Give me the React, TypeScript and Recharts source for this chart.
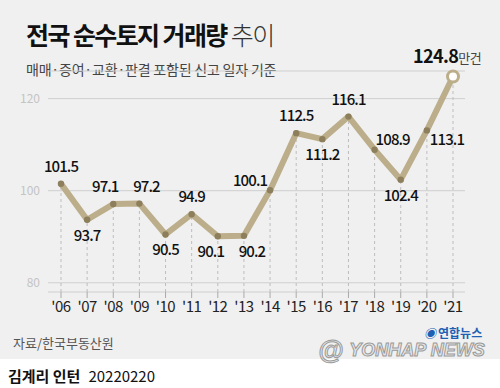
import { CartesianGrid, LabelList, Line, LineChart, ReferenceLine, XAxis, YAxis } from "recharts";

const years = ["'06", "'07", "'08", "'09", "'10", "'11", "'12", "'13", "'14", "'15", "'16", "'17", "'18", "'19", "'20", "'21"];
const volumes = [101.5, 93.7, 97.1, 97.2, 90.5, 94.9, 90.1, 90.2, 100.1, 112.5, 111.2, 116.1, 108.9, 102.4, 113.1, 124.8];
const yTicks = [80, 100, 120];

const FONT = "'Noto Sans CJK KR', 'Noto Sans', sans-serif";
const LINE = "#bcae8a";
const DOT = "#8d7e5c";

// where each value label sits relative to its point: [dx, dy, anchor]
const labelPlacement: [number, number, string][] = [
	[0, -12, "middle"],
	[0, 21, "middle"],
	[-8, -12, "middle"],
	[7, -12, "middle"],
	[0, 21, "middle"],
	[0, -12, "middle"],
	[-7, 21, "middle"],
	[8, 21, "middle"],
	[-20, -4, "middle"],
	[0, -12, "middle"],
	[0, 21, "middle"],
	[0, -12, "middle"],
	[1, -5, "start"],
	[0, 21, "middle"],
	[3, 15, "start"],
];

const chartData = years.map((year, i) => ({ year, value: volumes[i] }));

function ValueLabel(props: any) {
	const { x, y, value, index } = props;
	if (index === volumes.length - 1) {
		return (
			<text x={x - 40} y={y - 14} fontFamily={FONT} fill="#111" letterSpacing={-0.6}>
				<tspan fontSize={18} fontWeight={700}>{value}</tspan>
				<tspan fontSize={13} fill="#444">만건</tspan>
			</text>
		);
	}
	const [dx, dy, anchor] = labelPlacement[index];
	return (
		<text
			x={x + dx}
			y={y + dy}
			textAnchor={anchor}
			fontFamily={FONT}
			fontSize={15}
			fontWeight={500}
			letterSpacing={-0.9}
			fill="#111"
		>
			{value}
		</text>
	);
}

function PointDot(props: any) {
	const { cx, cy, index } = props;
	if (index === volumes.length - 1) {
		return <circle key={index} cx={cx} cy={cy} r={5.5} fill="#fff" stroke={LINE} strokeWidth={3} />;
	}
	return <circle key={index} cx={cx} cy={cy} r={3.2} fill={DOT} />;
}

export default function App() {
	return (
		<div style={{ position: "absolute", left: 0, top: 0, width: 500, height: 388, background: "#fff", fontFamily: FONT, overflow: "hidden" }}>
			<div style={{ position: "absolute", left: 0, top: 0, width: 500, height: 359, background: "#f0f0f0" }} />
			<div style={{ position: "absolute", left: 26, top: 16, fontSize: 25, fontWeight: 700, letterSpacing: -1.6, color: "#111", whiteSpace: "nowrap" }}>
				전국 순수토지 거래량 <span style={{ fontWeight: 300, color: "#333" }}>추이</span>
			</div>
			<div style={{ position: "absolute", left: 26, top: 59, fontSize: 14, color: "#444", letterSpacing: -0.2, whiteSpace: "nowrap" }}>
				매매·증여·교환·판결 포함된 신고 일자 기준
			</div>

			<div style={{ position: "absolute", left: 0, top: 0 }}>
				<LineChart width={500} height={388} data={chartData} margin={{ top: 71, right: 35, bottom: 66, left: 0 }}>
					<CartesianGrid vertical={false} stroke="#cfcfcf" />
					<XAxis
						dataKey="year"
						axisLine={false}
						tickSize={6}
						tickMargin={3}
						tickLine={{ stroke: "#aaa" }}
						padding={{ left: 13, right: 12 }}
						tick={{ fontSize: 15, fill: "#222", fontFamily: FONT, letterSpacing: -0.5 }}
						interval={0}
						height={30}
					/>
					<YAxis
						domain={[78, 126]}
						ticks={yTicks}
						axisLine={false}
						tickLine={false}
						tickSize={0}
						tickMargin={8}
						width={48}
						tick={{ fontSize: 12, fill: "#c4c4c4", fontFamily: FONT }}
					/>
					{chartData.map((d) => (
						<ReferenceLine
							key={d.year}
							segment={[
								{ x: d.year, y: 78 },
								{ x: d.year, y: d.value },
							]}
							stroke="#bdbdbd"
							strokeDasharray="3 3"
						/>
					))}
					<Line
						type="linear"
						dataKey="value"
						stroke={LINE}
						strokeWidth={6}
						strokeLinejoin="round"
						dot={<PointDot />}
						activeDot={false}
						isAnimationActive={false}
					>
						<LabelList dataKey="value" content={<ValueLabel />} />
					</Line>
				</LineChart>
			</div>

			<div style={{ position: "absolute", left: 13, top: 333, fontSize: 13, color: "#555" }}>자료/한국부동산원</div>
			<div style={{ position: "absolute", left: 8, top: 365, fontSize: 15, color: "#111", whiteSpace: "nowrap" }}>
				<span style={{ fontWeight: 700 }}>김계리 인턴</span>
				<span style={{ marginLeft: 8 }}>20220220</span>
			</div>
			<div style={{ position: "absolute", left: 424, top: 324, fontSize: 12, fontWeight: 700, color: "#1f5fb4", whiteSpace: "nowrap" }}>
				<span style={{ fontStyle: "italic", marginRight: 2 }}>◉</span>연합뉴스
			</div>
			<div
				style={{
					position: "absolute",
					left: 318,
					top: 335,
					fontSize: 18,
					fontWeight: 900,
					fontStyle: "italic",
					color: "#e8e8e8",
					WebkitTextStroke: "1px #9a9a9a",
					letterSpacing: 0,
					fontFamily: "'Liberation Sans', Arial, sans-serif",
					whiteSpace: "nowrap",
				}}
			>
				<span style={{ fontSize: 26, marginRight: 6, verticalAlign: -3 }}>@</span>YONHAP NEWS
			</div>
		</div>
	);
}
